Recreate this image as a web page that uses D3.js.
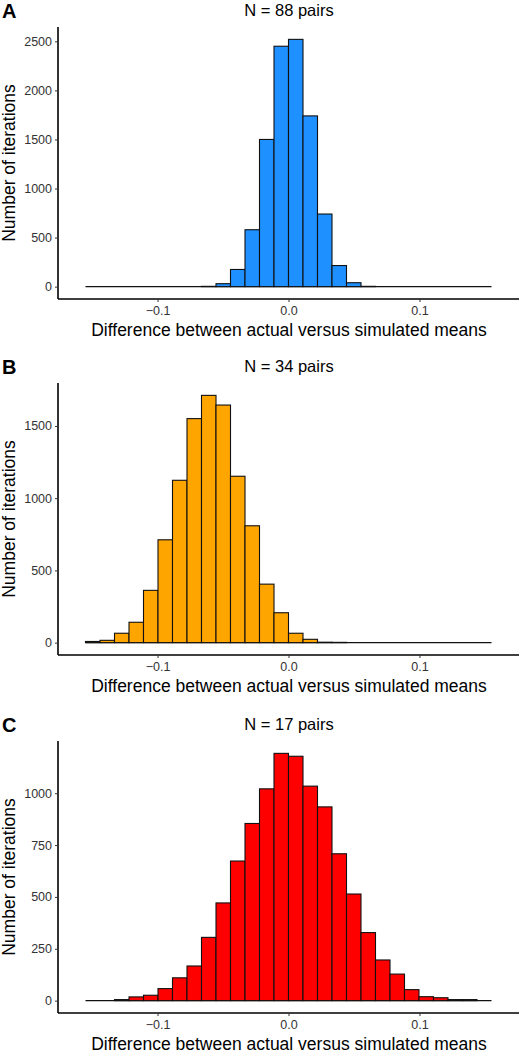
<!DOCTYPE html>
<html>
<head>
<meta charset="utf-8">
<script src="https://cdn.jsdelivr.net/npm/d3@7"></script>
<style>
  body { margin: 0; background: #fff; }
  text { font-family: "Liberation Sans", Arial, sans-serif; }
</style>
</head>
<body>
<div id="chart"></div>
<script>
// histogrammes : 28 classes de -0.155 à 0.155
const binStart = -0.155;
const binEnd = 0.155;
const nBins = 28;

const xTicks = [-0.1, 0.0, 0.1];

const countsA = [0,0,0,0,0,0,0,0,3,30,175,580,1500,2450,2520,1740,740,215,40,3,0,0,0,0,0,0,0,0];
const countsB = [8,16,65,141,362,712,1124,1551,1712,1645,1152,809,405,207,65,23,3,2,0,0,0,0,0,0,0,0,0,0];
const countsC = [0,0,5,18,26,58,110,167,305,471,673,854,1021,1192,1178,1034,934,708,514,328,196,128,53,19,14,5,5,0];

const ticksA = [0, 500, 1000, 1500, 2000, 2500];
const ticksB = [0, 500, 1000, 1500];
const ticksC = [0, 250, 500, 750, 1000];

const panels = [
  { letter: "A", title: "N = 88 pairs", counts: countsA, ticks: ticksA, fill: "#1E90FF", top: 0 },
  { letter: "B", title: "N = 34 pairs", counts: countsB, ticks: ticksB, fill: "#FFA500", top: 356 },
  { letter: "C", title: "N = 17 pairs", counts: countsC, ticks: ticksC, fill: "#FF0000", top: 714 }
];

const width = 520;
const height = 1053;
const binW = (binEnd - binStart) / nBins;

const svg = d3.select("#chart").append("svg")
  .attr("width", width)
  .attr("height", height);

const x = d3.scaleLinear().domain([-0.176, 0.176]).range([58, 519]);

panels.forEach(p => {
  const g = svg.append("g").attr("transform", `translate(0,${p.top})`);
  const plotTop = 27, plotBottom = 299;
  const max = d3.max(p.counts);
  const y = d3.scaleLinear().domain([-0.05 * max, 1.05 * max]).range([plotBottom, plotTop]);

  const bins = p.counts.map((c, i) => ({ x0: binStart + i * binW, x1: binStart + (i + 1) * binW, c }));

  // ligne de base des classes vides
  g.append("line")
    .attr("x1", x(binStart)).attr("x2", x(binEnd))
    .attr("y1", y(0)).attr("y2", y(0))
    .attr("stroke", "#111").attr("stroke-width", 1.3);

  g.append("g").selectAll("rect")
    .data(bins.filter(d => d.c > 0))
    .enter().append("rect")
    .attr("x", d => x(d.x0))
    .attr("width", d => x(d.x1) - x(d.x0))
    .attr("y", d => y(d.c))
    .attr("height", d => y(0) - y(d.c))
    .attr("fill", p.fill)
    .attr("stroke", "#111")
    .attr("stroke-width", 1.1);

  // axes
  const yAxis = g.append("g")
    .attr("transform", "translate(58,0)")
    .call(d3.axisLeft(y).tickValues(p.ticks).tickFormat(d3.format("d")).tickSize(3).tickPadding(3));
  const xAxis = g.append("g")
    .attr("transform", `translate(0,${plotBottom})`)
    .call(d3.axisBottom(x).tickValues(xTicks).tickFormat(d3.format(".1f")).tickSize(3).tickPadding(4));
  [yAxis, xAxis].forEach(a => {
    a.select(".domain").attr("stroke", "#000").attr("stroke-width", 1.6);
    a.selectAll(".tick line").attr("stroke", "#333");
    a.selectAll(".tick text").attr("font-size", 12.5).attr("fill", "#333")
      .style("font-family", "'Liberation Sans', Arial, sans-serif");
  });
  xAxis.select(".domain").attr("d", `M58,0H519`);
  yAxis.select(".domain").attr("d", `M0,${plotTop}V${plotBottom}`);
  xAxis.selectAll(".tick text").text(d => d3.format(".1f")(d).replace("-", "\u2212"));

  g.append("text")
    .attr("x", 289).attr("y", 16)
    .attr("text-anchor", "middle")
    .attr("font-size", 16.5)
    .text(p.title);

  g.append("text")
    .attr("x", 2).attr("y", 18)
    .attr("font-size", 20).attr("font-weight", "bold")
    .text(p.letter);

  g.append("text")
    .attr("x", 289).attr("y", 336)
    .attr("text-anchor", "middle")
    .attr("font-size", 17.5)
    .text("Difference between actual versus simulated means");

  g.append("text")
    .attr("transform", `translate(15,${(plotTop + plotBottom) / 2}) rotate(-90)`)
    .attr("text-anchor", "middle")
    .attr("font-size", 17.5)
    .text("Number of iterations");
});
</script>
</body>
</html>
